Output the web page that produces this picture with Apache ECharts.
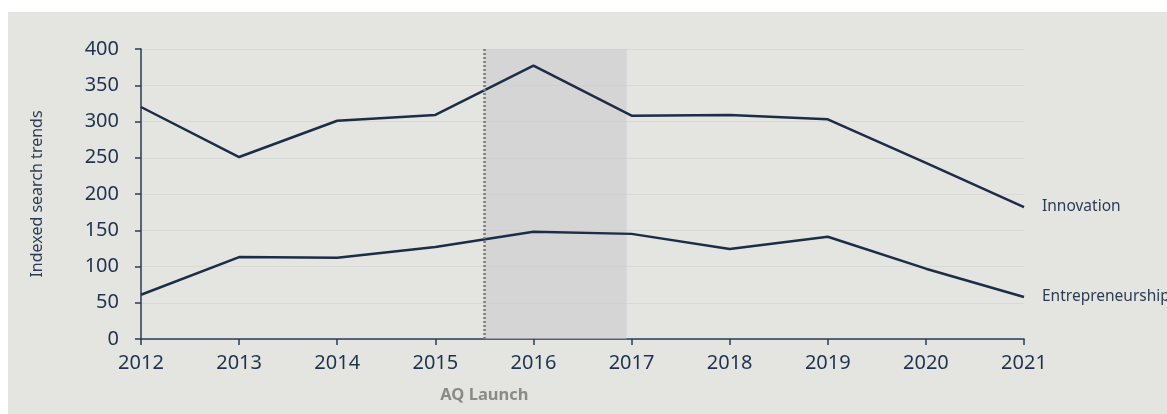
<!DOCTYPE html>
<html><head><meta charset="utf-8">
<script src="https://cdn.jsdelivr.net/npm/echarts@6/dist/echarts.min.js"></script>
<style>
html,body{margin:0;padding:0;background:#fff;width:1167px;height:414px;overflow:hidden;}
#c{position:absolute;left:8px;top:12px;width:1159px;height:402px;background:#e4e4e0;}
</style></head><body>
<div id="c"></div>
<script>
const years = [2012,2013,2014,2015,2016,2017,2018,2019,2020,2021];
const innovation = [320,251,301,309,377,308,309,303,243,182];
const entrepreneurship = [61,113,112,127,148,145,124,141,97,58];
const yTicks = [0,50,100,150,200,250,300,350,400];
const launchYear = 2015.5;
const bandEnd = 2016.95;

const font = '"Noto Sans","Open Sans",sans-serif';
const navy = '#1c2d48';
const chart = echarts.init(document.getElementById('c'));
const mk = (arr) => years.map((y,i)=>[y,arr[i]]);
chart.setOption({
  animation:false,
  textStyle:{fontFamily:font},
  grid:{left:133,right:143,top:37,bottom:75,containLabel:false},
  xAxis:{type:'value',min:2012,max:2021,interval:1,
    axisLine:{lineStyle:{color:'#2a3b55',width:1.5}},
    axisTick:{show:true,length:6,lineStyle:{color:'#2a3b55',width:1.5}},
    axisLabel:{color:'#1f3350',fontSize:20,margin:14,formatter:v=>String(v)},
    splitLine:{show:false}},
  yAxis:{type:'value',min:0,max:400,interval:50,
    name:'Indexed search trends',nameLocation:'middle',nameGap:96,
    nameTextStyle:{color:'#2b3d55',fontSize:16,fontFamily:font},
    axisLine:{show:true,lineStyle:{color:'#2a3b55',width:1.5}},
    axisTick:{show:true,length:6,lineStyle:{color:'#2a3b55',width:1.5}},
    axisLabel:{color:'#1f3350',fontSize:20,margin:22,formatter:v=>yTicks.includes(v)?String(v):''},
    splitLine:{show:true,lineStyle:{color:'#d9d9d5',width:1}}},
  series:[
    {name:'Innovation',type:'line',data:mk(innovation),symbol:'none',
     lineStyle:{color:navy,width:2.5},
     endLabel:{show:true,formatter:'{a}',color:'#2b3d55',fontSize:15.5,distance:18},
     markArea:{silent:true,itemStyle:{color:'rgba(200,201,205,0.55)'},
       data:[[{xAxis:launchYear,yAxis:400},{xAxis:bandEnd,yAxis:0}]]},
     markLine:{silent:true,symbol:'none',
       lineStyle:{color:'#7a7a7a',type:[2,2],width:2.5},
       label:{show:true,position:'start',formatter:'AQ Launch',color:'#8a8a8a',fontSize:16.5,fontWeight:'bold',distance:48},
       data:[{xAxis:launchYear}]},
     z:3},
    {name:'Entrepreneurship',type:'line',data:mk(entrepreneurship),symbol:'none',
     lineStyle:{color:navy,width:2.5},
     endLabel:{show:true,formatter:'{a}',color:'#2b3d55',fontSize:15.5,distance:18},
     z:3}
  ]
});
</script></body></html>
